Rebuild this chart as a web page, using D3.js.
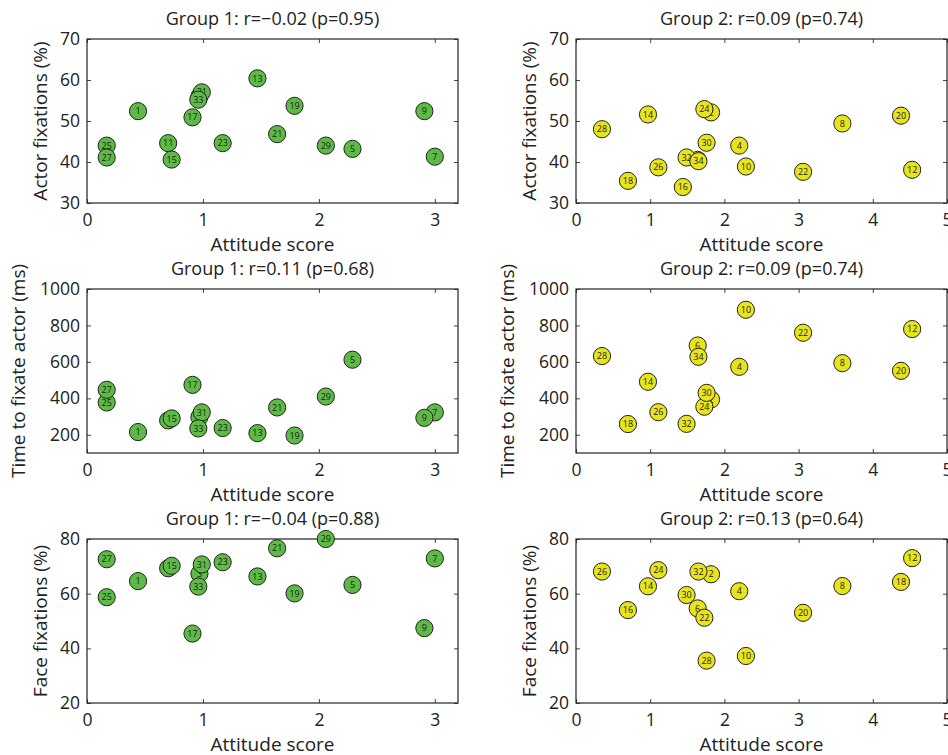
<!DOCTYPE html>
<html>
<head>
<meta charset="utf-8">
<script src="https://cdn.jsdelivr.net/npm/d3@7"></script>
<style>
  body { margin: 0; background: #fff; }
  text { font-family: "Open Sans", "DejaVu Sans", sans-serif; fill: #222; }
</style>
</head>
<body>
<svg id="chart" width="948" height="755"></svg>
<script>
// group 1 (odd ids) and group 2 (even ids)
const g1Ids    = [1, 3, 5, 7, 9, 11, 13, 15, 17, 19, 21, 23, 25, 27, 29, 31, 33];
const g1Score  = [0.44, 0.97, 2.29, 3.0, 2.91, 0.70, 1.47, 0.73, 0.91, 1.79, 1.64, 1.17, 0.17, 0.17, 2.06, 0.99, 0.96];
const g1Actor  = [52.4, 56.0, 43.2, 41.3, 52.4, 44.6, 60.4, 40.6, 50.9, 53.7, 46.8, 44.6, 44.0, 41.1, 44.0, 57.0, 55.2];
const g1Time   = [215, 297, 612, 323, 293, 279, 209, 290, 474, 196, 350, 237, 377, 447, 410, 323, 235];
const g1Face   = [64.6, 67.3, 63.2, 72.9, 47.4, 69.3, 66.3, 70.2, 45.4, 60.1, 76.6, 71.5, 58.7, 72.6, 80.0, 70.7, 62.6];

const g2Ids    = [2, 4, 6, 8, 10, 12, 14, 16, 18, 20, 22, 24, 26, 28, 30, 32, 34];
const g2Score  = [1.82, 2.20, 1.64, 3.59, 2.29, 4.53, 0.97, 1.44, 0.70, 4.38, 3.06, 1.73, 1.11, 0.35, 1.76, 1.49, 1.65];
const g2Actor  = [52.1, 44.0, 40.5, 49.4, 38.9, 38.1, 51.6, 33.9, 35.4, 51.3, 37.6, 52.9, 38.7, 48.0, 44.7, 41.1, 40.2];
const g2Time   = [394, 573, 690, 593, 886, 780, 491, null, 259, 551, 760, 354, 324, 632, 430, 260, 628];
const g2Face   = [67.1, 60.9, 54.6, 62.8, 37.2, 73.0, 62.7, null, 54.0, 64.3, 53.0, 51.2, 68.6, 68.1, 35.5, 59.5, 68.1];
// labels as printed in the face-fixation panel of group 2 (shifted after the missing id)
const g2FaceLabels = [2, 4, 6, 8, 10, 12, 14, 16, 18, 20, 22, 24, 26, 28, 30, 32];

const titles = [
  "Group 1: r=\u22120.02 (p=0.95)", "Group 2: r=0.09 (p=0.74)",
  "Group 1: r=0.11 (p=0.68)",       "Group 2: r=0.09 (p=0.74)",
  "Group 1: r=\u22120.04 (p=0.88)", "Group 2: r=0.13 (p=0.64)"
];
const yLabels = ["Actor fixations (%)", "Time to fixate actor (ms)", "Face fixations (%)"];
const yDomains = [[30, 70], [100, 1000], [20, 80]];
const yTicks = [[30, 40, 50, 60, 70], [200, 400, 600, 800, 1000], [20, 40, 60, 80]];
const xDomains = [[0, 3.2], [0, 5]];
const xTicks = [[0, 1, 2, 3], [0, 1, 2, 3, 4, 5]];

function points(ids, xs, ys, labels) {
  const out = [];
  let k = 0;
  ids.forEach((id, i) => {
    if (ys[i] == null) return;
    out.push({ x: xs[i], y: ys[i], label: labels ? labels[k] : id });
    k++;
  });
  return out;
}

const panels = [
  { col: 0, row: 0, data: points(g1Ids, g1Score, g1Actor) },
  { col: 1, row: 0, data: points(g2Ids, g2Score, g2Actor) },
  { col: 0, row: 1, data: points(g1Ids, g1Score, g1Time) },
  { col: 1, row: 1, data: points(g2Ids, g2Score, g2Time) },
  { col: 0, row: 2, data: points(g1Ids, g1Score, g1Face) },
  { col: 1, row: 2, data: points(g2Ids, g2Score, g2Face, g2FaceLabels) }
];

const colX = [[87, 458], [576, 947]];
const rowY = [[39, 203], [289, 453], [539, 703]];
const yLabelX = [[40, 18, 40], [529, 507, 529]];
const fills = ["#5cba45", "#e8e41c"];

const svg = d3.select("#chart");

panels.forEach((p, i) => {
  const [x0, x1] = colX[p.col];
  const [y0, y1] = rowY[p.row];
  const x = d3.scaleLinear().domain(xDomains[p.col]).range([x0, x1]);
  const y = d3.scaleLinear().domain(yDomains[p.row]).range([y1, y0]);
  const g = svg.append("g");

  // inward ticks on all four sides
  const tl = 4;
  g.append("g").attr("transform", `translate(0,${y1})`)
    .call(d3.axisBottom(x).tickValues(xTicks[p.col]).tickSize(-tl).tickPadding(11).tickFormat(d3.format("d")));
  g.append("g").attr("transform", `translate(0,${y0})`)
    .call(d3.axisTop(x).tickValues(xTicks[p.col]).tickSize(-tl).tickFormat(""));
  g.append("g").attr("transform", `translate(${x0},0)`)
    .call(d3.axisLeft(y).tickValues(yTicks[p.row]).tickSize(-tl).tickPadding(7).tickFormat(d3.format("d")));
  g.append("g").attr("transform", `translate(${x1},0)`)
    .call(d3.axisRight(y).tickValues(yTicks[p.row]).tickSize(-tl).tickFormat(""));
  g.selectAll(".domain").remove();
  g.selectAll(".tick line").attr("stroke", "#444");
  g.selectAll(".tick text").style("font-size", "17.5px").attr("fill", "#222");

  g.append("rect")
    .attr("x", x0).attr("y", y0)
    .attr("width", x1 - x0).attr("height", y1 - y0)
    .attr("fill", "none").attr("stroke", "#222").attr("stroke-width", 1.2);

  const dots = g.append("g").selectAll("g").data(p.data).join("g")
    .attr("transform", d => `translate(${x(d.x)},${y(d.y)})`);
  dots.append("circle").attr("r", 8.6)
    .attr("fill", fills[p.col]).attr("stroke", "#222").attr("stroke-width", 1);
  dots.append("text").text(d => d.label)
    .attr("text-anchor", "middle").attr("dy", "0.35em")
    .style("font-size", "9px").attr("fill", "#333");

  g.append("text").text(titles[i])
    .attr("x", (x0 + x1) / 2).attr("y", y0 - 14)
    .attr("text-anchor", "middle").style("font-size", "18px");
  g.append("text").text("Attitude score")
    .attr("x", (x0 + x1) / 2).attr("y", y1 + 48)
    .attr("text-anchor", "middle").style("font-size", "19px");
  g.append("text").text(yLabels[p.row])
    .attr("transform", `translate(${yLabelX[p.col][p.row]},${(y0 + y1) / 2}) rotate(-90)`)
    .attr("text-anchor", "middle").attr("dy", "0.35em").style("font-size", "19px");
});
</script>
</body>
</html>
